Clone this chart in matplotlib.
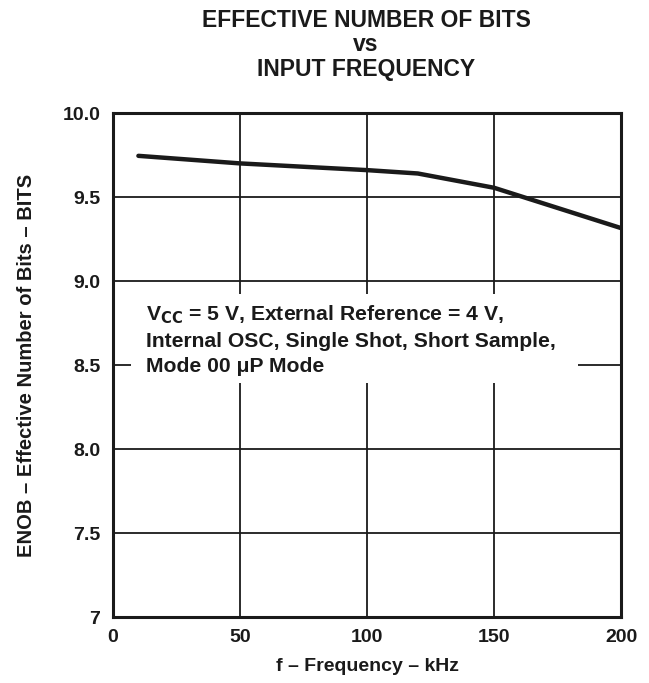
import matplotlib
matplotlib.use("Agg")
import matplotlib.pyplot as plt
from matplotlib.patches import Rectangle

plt.rcParams['font.family'] = ['Liberation Sans', 'DejaVu Sans']
plt.rcParams['font.weight'] = 'bold'

# ENOB vs input frequency
freq_khz = [10, 50, 100, 120, 150, 200]
enob = [9.745, 9.70, 9.66, 9.64, 9.555, 9.315]

x_ticks = [0, 50, 100, 150, 200]
y_ticks = [7.0, 7.5, 8.0, 8.5, 9.0, 9.5, 10.0]
y_tick_labels = ['7', '7.5', '8.0', '8.5', '9.0', '9.5', '10.0']

title_lines = ['EFFECTIVE NUMBER OF BITS', 'vs', 'INPUT FREQUENCY']

ink = '#1a1a1a'
W, H = 649, 683

fig = plt.figure(figsize=(6.49, 6.83), dpi=100)
ax = fig.add_axes([113 / W, 1 - 617 / H, 508 / W, 504 / H])

ax.set_xlim(0, 200)
ax.set_ylim(7, 10)
ax.set_xticks(x_ticks)
ax.set_yticks(y_ticks)
ax.set_yticklabels(y_tick_labels)
ax.grid(True, color=ink, linewidth=1.3)
ax.set_axisbelow(True)
ax.tick_params(length=0, labelsize=14, colors=ink)
ax.tick_params(axis='x', pad=9)
ax.tick_params(axis='y', pad=9)
for s in ax.spines.values():
    s.set_linewidth(2.2)
    s.set_color(ink)

ax.plot(freq_khz, enob, color=ink, linewidth=3.2, solid_capstyle='round', zorder=3)

# white box behind the conditions note
ax.add_patch(Rectangle((7.0, 8.39), 176.0, 0.53, facecolor='white', edgecolor='none', zorder=2))
note = ('V$_{\\mathbf{CC}}$ = 5 V, External Reference = 4 V,\n'
        'Internal OSC, Single Shot, Short Sample,\n'
        'Mode 00 \u03bcP Mode')
ax.text(13.0, 8.649, note, fontsize=15.2, fontweight='bold', color=ink,
        va='center', ha='left', linespacing=1.4, zorder=4)

ax.set_xlabel('f \u2013 Frequency \u2013 kHz', fontsize=14, fontweight='bold', labelpad=8, color=ink)
ax.set_ylabel('ENOB \u2013 Effective Number of Bits \u2013 BITS', fontsize=14.5, fontweight='bold',
              labelpad=19, color=ink)

for line, base in zip(title_lines, [27, 51, 76]):
    fig.text(366 / W, 1 - base / H, line, ha='center', va='baseline',
             fontsize=16.5, fontweight='bold', color=ink)

fig.savefig('out.png', dpi=100)
